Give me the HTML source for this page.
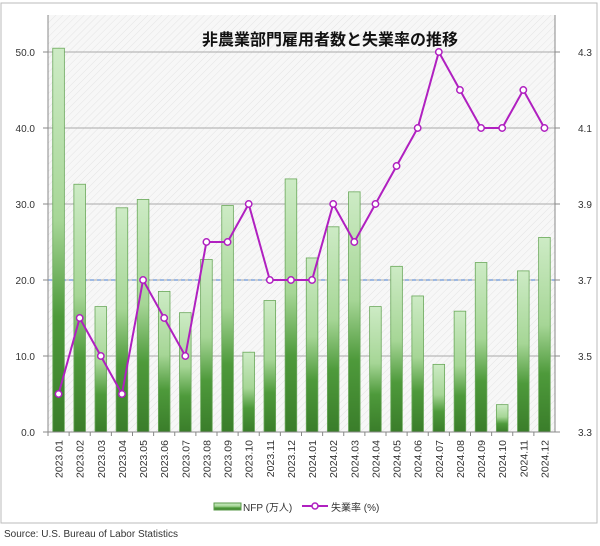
<!DOCTYPE html>
<html><head><meta charset="utf-8"><style>
body{margin:0;background:#fff;font-family:"Liberation Sans","Noto Sans CJK JP",sans-serif}
</style></head><body>
<svg id="c" width="600" height="541" xmlns="http://www.w3.org/2000/svg">
<defs>
<pattern id="hatch" width="5" height="5" patternUnits="userSpaceOnUse" patternTransform="rotate(45)">
<rect width="5" height="5" fill="#f7f7f7"/><line x1="0" y1="0" x2="0" y2="5" stroke="#e4e4e4" stroke-width="1"/>
</pattern>
<linearGradient id="bg" x1="0" y1="0" x2="0" y2="1">
<stop offset="0" stop-color="#cdebc5"/><stop offset="0.45" stop-color="#a6d696"/>
<stop offset="0.7" stop-color="#4e9a3b"/><stop offset="1" stop-color="#3a7d2a"/>
</linearGradient>
</defs>
<rect x="1" y="3" width="596" height="520" fill="#fff" stroke="#bbb"/>
<rect x="48" y="15" width="507" height="417" fill="url(#hatch)"/>
<g id="grid"></g><g id="bars"></g><g id="line"></g><g id="axes"></g>
<text x="330" y="45" text-anchor="middle" font-size="16" font-weight="bold" fill="#111">非農業部門雇用者数と失業率の推移</text>
<g>
<rect x="214" y="503" width="27" height="7" fill="url(#bg)" stroke="#5a9a4a"/>
<text x="243" y="511" font-size="10" fill="#333">NFP (万人)</text>
<line x1="302" y1="506" x2="328" y2="506" stroke="#b020c0" stroke-width="2"/>
<circle cx="315" cy="506" r="3" fill="#fff" stroke="#b020c0" stroke-width="1.5"/>
<text x="331" y="511" font-size="10" fill="#333">失業率 (%)</text>
</g>
<text x="4" y="537" font-size="10" fill="#333">Source:     U.S. Bureau of Labor Statistics</text>
</svg>
<script>
const categories=["2023.01","2023.02","2023.03","2023.04","2023.05","2023.06","2023.07","2023.08","2023.09","2023.10","2023.11","2023.12","2024.01","2024.02","2024.03","2024.04","2024.05","2024.06","2024.07","2024.08","2024.09","2024.10","2024.11","2024.12"];
const nfp=[50.5,32.6,16.5,29.5,30.6,18.5,15.7,22.7,29.8,10.5,17.3,33.3,22.9,27.0,31.6,16.5,21.8,17.9,8.9,15.9,22.3,3.6,21.2,25.6];
const unemp=[3.4,3.6,3.5,3.4,3.7,3.6,3.5,3.8,3.8,3.9,3.7,3.7,3.7,3.9,3.8,3.9,4.0,4.1,4.3,4.2,4.1,4.1,4.2,4.1];
const leftTicks=[0,10,20,30,40,50];
const rightTicks=[3.3,3.5,3.7,3.9,4.1,4.3];
const refLine=20;
const NS="http://www.w3.org/2000/svg";
const X0=48,X1=555,Y0=432,Y1=52;
const step=(X1-X0)/categories.length;
const xc=i=>X0+step*(i+0.5);
const yl=v=>Y0-(v/50)*(Y0-Y1);
const yr=v=>Y0-((v-3.3)/1.0)*(Y0-Y1);
function mk(t,a,p){const e=document.createElementNS(NS,t);for(const k in a)e.setAttribute(k,a[k]);p.appendChild(e);return e;}
const grid=document.getElementById('grid'),bars=document.getElementById('bars'),line=document.getElementById('line'),axes=document.getElementById('axes');
leftTicks.forEach((v,i)=>{
 if(v>0){const g=mk('line',{x1:X0,x2:X1,y1:yl(v),y2:yl(v),stroke:'#aaa','stroke-width':1},grid);
 
 }
 mk('line',{x1:X0-5,x2:X0,y1:yl(v),y2:yl(v),stroke:'#888'},axes);
 const t=mk('text',{x:X0-13,y:yl(v)+4,'text-anchor':'end','font-size':10,fill:'#333'},axes);t.textContent=v.toFixed(1);
 
 
});
rightTicks.forEach(v=>{
 mk('line',{x1:X1,x2:X1+5,y1:yr(v),y2:yr(v),stroke:'#888'},axes);
 const t=mk('text',{x:X1+23,y:yr(v)+4,'text-anchor':'start','font-size':10,fill:'#333'},axes);t.textContent=v.toFixed(1);
 
 
});
const rl=mk('line',{x1:X0,x2:X1,y1:yl(refLine),y2:yl(refLine),stroke:'#4a7fd0','stroke-dasharray':'4,3','stroke-width':1},grid);


const bw=step*0.55;
nfp.forEach((v,i)=>{
 const r=mk('rect',{x:xc(i)-bw/2,y:yl(v),width:bw,height:Y0-yl(v),fill:'url(#bg)',stroke:'#6aa85a','stroke-width':0.8},bars);
 
 
});
mk('line',{x1:X0,x2:X0,y1:15,y2:Y0,stroke:'#888'},axes);
mk('line',{x1:X1,x2:X1,y1:15,y2:Y0,stroke:'#888'},axes);
mk('line',{x1:X0,x2:X1,y1:Y0,y2:Y0,stroke:'#888'},axes);
categories.forEach((c,i)=>{
 mk('line',{x1:X0+step*i,x2:X0+step*i,y1:Y0,y2:Y0+4,stroke:'#888'},axes);
 const t=mk('text',{x:0,y:0,'text-anchor':'end','font-size':10.5,fill:'#333',transform:`translate(${xc(i)+4},${Y0+8}) rotate(-90)`},axes);t.textContent=c;
 
 
});
const pl=mk('polyline',{points:unemp.map((v,i)=>xc(i)+','+yr(v)).join(' '),fill:'none',stroke:'#b020c0','stroke-width':2},line);


unemp.forEach((v,i)=>{
 const p=mk('circle',{cx:xc(i),cy:yr(v),r:3.2,fill:'#fff',stroke:'#b020c0','stroke-width':1.5},line);
 
 
});
</script>
</body></html>
